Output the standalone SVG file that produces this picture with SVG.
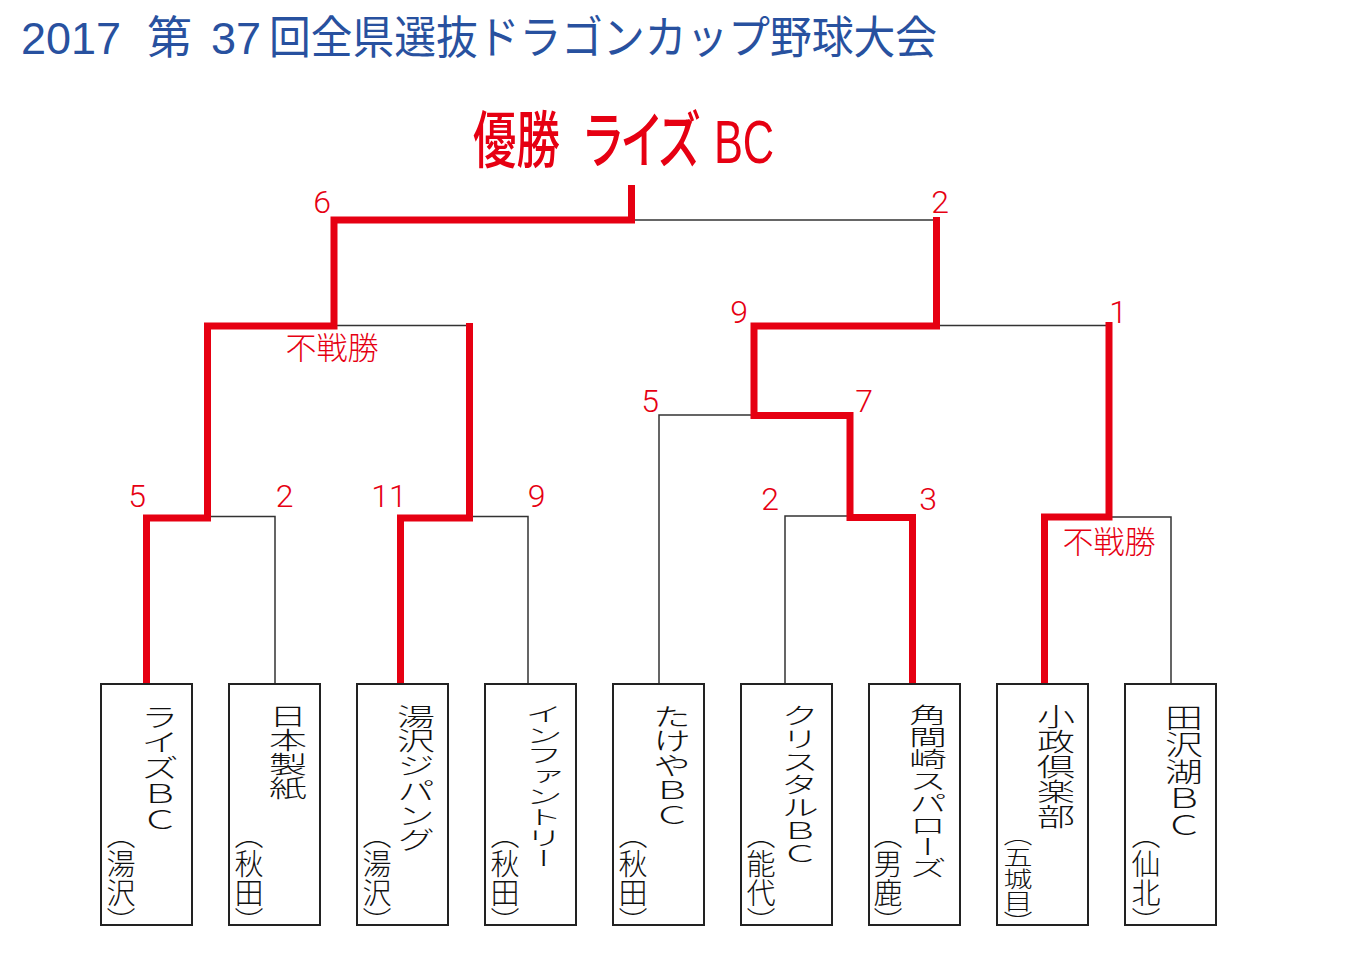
<svg xmlns="http://www.w3.org/2000/svg" width="1366" height="965" viewBox="0 0 1366 965">
<style>
  .title{font-family:"Liberation Sans","Noto Sans CJK JP",sans-serif;font-size:45px;fill:#28519f;}
  .winner{font-family:"Liberation Sans","Noto Sans CJK JP",sans-serif;font-size:62px;font-weight:500;fill:#e60012;font-feature-settings:"palt" 1;}
  .score{font-family:Roboto,"Liberation Sans",sans-serif;font-weight:300;font-size:32px;fill:#e60012;text-anchor:middle;}
  .bye{font-family:"Noto Sans CJK JP",sans-serif;font-weight:300;font-size:31px;fill:#e60012;text-anchor:middle;}
  .box{fill:#fff;stroke:#222;stroke-width:2;}
  .name{font-family:"Noto Sans CJK JP",sans-serif;font-weight:300;font-size:38px;fill:#111;writing-mode:vertical-rl;}
  .region{font-family:"Noto Sans CJK JP",sans-serif;font-weight:300;font-size:29px;fill:#111;writing-mode:vertical-rl;font-feature-settings:"vhal" 1;}
  .lose{fill:none;stroke:#333;stroke-width:1.5;}
  .win{fill:none;stroke:#e60012;stroke-width:7;stroke-linejoin:miter;stroke-linecap:butt;}
</style>
<rect width="1366" height="965" fill="#fff"/>
<g id="title">
  <text class="title" y="54"><tspan x="21">2017</tspan><tspan x="147">第</tspan><tspan x="211">37</tspan><tspan x="269" textLength="668" lengthAdjust="spacingAndGlyphs">回全県選抜ドラゴンカップ野球大会</tspan></text>
</g>
<g id="champion">
  <text class="winner" transform="translate(473,163) scale(0.7,1)">優勝 <tspan dx="18">ライズ</tspan> <tspan dx="4">BC</tspan></text>
</g>
<g id="connectors">
  <path class="lose" d="M631.5,220 H936.5"/>
  <path class="lose" d="M334,325.5 H469.5"/>
  <path class="lose" d="M936.5,325.5 H1109"/>
  <path class="lose" d="M207.5,516.5 H275 V684"/>
  <path class="lose" d="M469.5,516.5 H528 V684"/>
  <path class="lose" d="M754,415 H659 V684"/>
  <path class="lose" d="M850,516 H785 V684"/>
  <path class="lose" d="M1109,517 H1171 V684"/>
  <path class="win" d="M631.5,185 V220 H334 V326 H207.5 V518 H146.5 V684"/>
  <path class="win" d="M469.5,323 V518 H400.5 V684"/>
  <path class="win" d="M936.5,217 V326 H754 V415.5 H850 V517.5 H912.5 V684"/>
  <path class="win" d="M1109,322 V517 H1044.5 V684"/>
</g>
<g id="scores">
  <text class="score" x="322" y="213">6</text>
  <text class="score" x="940" y="213">2</text>
  <text class="bye" x="332" y="359">不戦勝</text>
  <text class="score" x="739" y="323">9</text>
  <text class="score" x="1118" y="323">1</text>
  <text class="score" x="650" y="412">5</text>
  <text class="score" x="864" y="412">7</text>
  <text class="score" x="137" y="507">5</text>
  <text class="score" x="284.5" y="507">2</text>
  <text class="score" x="389" y="507">11</text>
  <text class="score" x="536.5" y="507">9</text>
  <text class="score" x="770" y="510">2</text>
  <text class="score" x="928" y="510">3</text>
  <text class="bye" x="1109" y="553">不戦勝</text>
</g>
<g id="team-1">
  <rect class="box" x="101" y="684" width="91" height="241"/>
  <text class="name" transform="translate(160,704) scale(1,0.674)">ライズＢＣ</text>
  <text class="region" transform="translate(121,835)">（湯沢）</text>
</g>
<g id="team-2">
  <rect class="box" x="229" y="684" width="91" height="241"/>
  <text class="name" transform="translate(288,704) scale(1,0.632)">日本製紙</text>
  <text class="region" transform="translate(249,835)">（秋田）</text>
</g>
<g id="team-3">
  <rect class="box" x="357" y="684" width="91" height="241"/>
  <text class="name" transform="translate(416,704) scale(1,0.65)">湯沢ジパング</text>
  <text class="region" transform="translate(377,835)">（湯沢）</text>
</g>
<g id="team-4">
  <rect class="box" x="485" y="684" width="91" height="241"/>
  <text class="name" transform="translate(544,704) scale(1,0.542)">インファントリー</text>
  <text class="region" transform="translate(505,835)">（秋田）</text>
</g>
<g id="team-5">
  <rect class="box" x="613" y="684" width="91" height="241"/>
  <text class="name" transform="translate(672,704) scale(1,0.647)">たけやＢＣ</text>
  <text class="region" transform="translate(633,835)">（秋田）</text>
</g>
<g id="team-6">
  <rect class="box" x="741" y="684" width="91" height="241"/>
  <text class="name" transform="translate(800,704) scale(1,0.605)">クリスタルＢＣ</text>
  <text class="region" transform="translate(761,835)">（能代）</text>
</g>
<g id="team-7">
  <rect class="box" x="869" y="684" width="91" height="241"/>
  <text class="name" transform="translate(928,704) scale(1,0.576)">角間崎スパローズ</text>
  <text class="region" transform="translate(888,835)">（男鹿）</text>
</g>
<g id="team-8">
  <rect class="box" x="997" y="684" width="91" height="241"/>
  <text class="name" transform="translate(1056,704) scale(1,0.658)">小政倶楽部</text>
  <text class="region" transform="translate(1018,835) scale(1,0.75)">（五城目）</text>
</g>
<g id="team-9">
  <rect class="box" x="1125" y="684" width="91" height="241"/>
  <text class="name" transform="translate(1184,704) scale(1,0.71)">田沢湖ＢＣ</text>
  <text class="region" transform="translate(1146,835)">（仙北）</text>
</g>
</svg>
